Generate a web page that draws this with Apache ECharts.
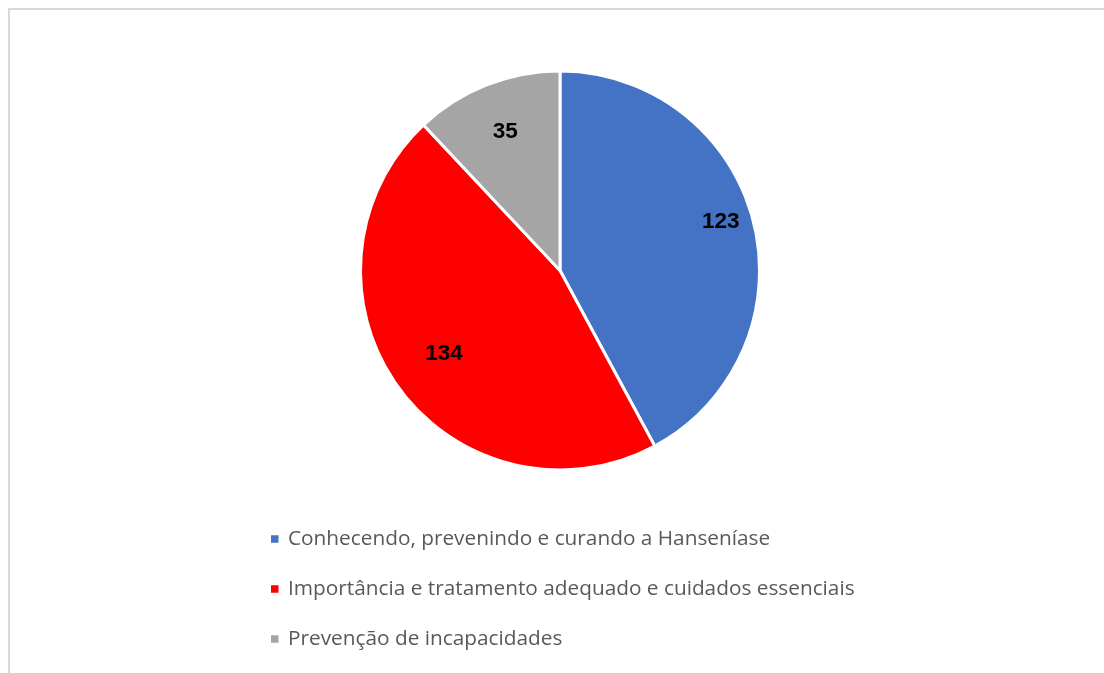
<!DOCTYPE html>
<html>
<head>
<meta charset="utf-8">
<script src="https://cdn.jsdelivr.net/npm/echarts@6/dist/echarts.min.js"></script>
<style>
  html, body { margin: 0; padding: 0; background: #ffffff; }
  #chart { width: 1104px; height: 673px; }
</style>
</head>
<body>
<div id="chart"></div>
<script>
// Temas abordados e número de participantes
const categories = [
  'Conhecendo, prevenindo e curando a Hanseníase',
  'Importância e tratamento adequado e cuidados essenciais',
  'Prevenção de incapacidades'
];
const values = [123, 134, 35];
const colors = ['#4472C4', '#FF0000', '#A5A5A5'];

// Pie geometry (pixels); value labels sit at these radii, nudged by these angles (degrees)
const CX = 560, CY = 270.5, R = 199.5;
const labelRadius = [168, 143, 149];
const labelAngleShift = [-2.7, 0, 0];

const chart = echarts.init(document.getElementById('chart'), null, { renderer: 'canvas' });

chart.setOption({
  backgroundColor: '#ffffff',
  animation: false,
  graphic: [{
    type: 'rect',
    shape: { x: 9, y: 9, width: 1300, height: 900 },
    style: { fill: 'none', stroke: '#d9d9d9', lineWidth: 2 },
    silent: true
  }],
  legend: {
    orient: 'vertical',
    left: 271,
    top: 527,
    padding: 0,
    itemWidth: 7.5,
    itemHeight: 7.5,
    itemGap: 26,
    icon: 'rect',
    itemStyle: { borderWidth: 0 },
    data: categories,
    textStyle: {
      fontFamily: '"Open Sans", "Noto Sans", sans-serif',
      fontSize: 20.8,
      color: '#595959',
      lineHeight: 24,
      padding: [0, 0, 0, 4.5]
    }
  },
  series: [{
    type: 'pie',
    center: [CX, CY],
    radius: [0, R],
    startAngle: 90,
    clockwise: true,
    avoidLabelOverlap: false,
    itemStyle: { borderColor: '#ffffff', borderWidth: 3 },
    label: {
      show: true,
      position: 'inside',
      formatter: '{c}',
      fontFamily: '"Liberation Sans", Arial, sans-serif',
      fontWeight: 'bold',
      fontSize: 22.5,
      color: '#000000'
    },
    labelLine: { show: false },
    labelLayout: function (params) {
      const rc = params.labelRect;
      const lx = rc.x + rc.width / 2, ly = rc.y + rc.height / 2;
      const ang = Math.atan2(lx - CX, CY - ly) + labelAngleShift[params.dataIndex] * Math.PI / 180;
      const target = labelRadius[params.dataIndex];
      const nx = CX + target * Math.sin(ang), ny = CY - target * Math.cos(ang);
      return { dx: nx - lx, dy: ny - ly };
    },
    emphasis: { disabled: true },
    data: categories.map((name, i) => ({
      name: name,
      value: values[i],
      itemStyle: { color: colors[i] }
    }))
  }]
});
</script>
</body>
</html>
